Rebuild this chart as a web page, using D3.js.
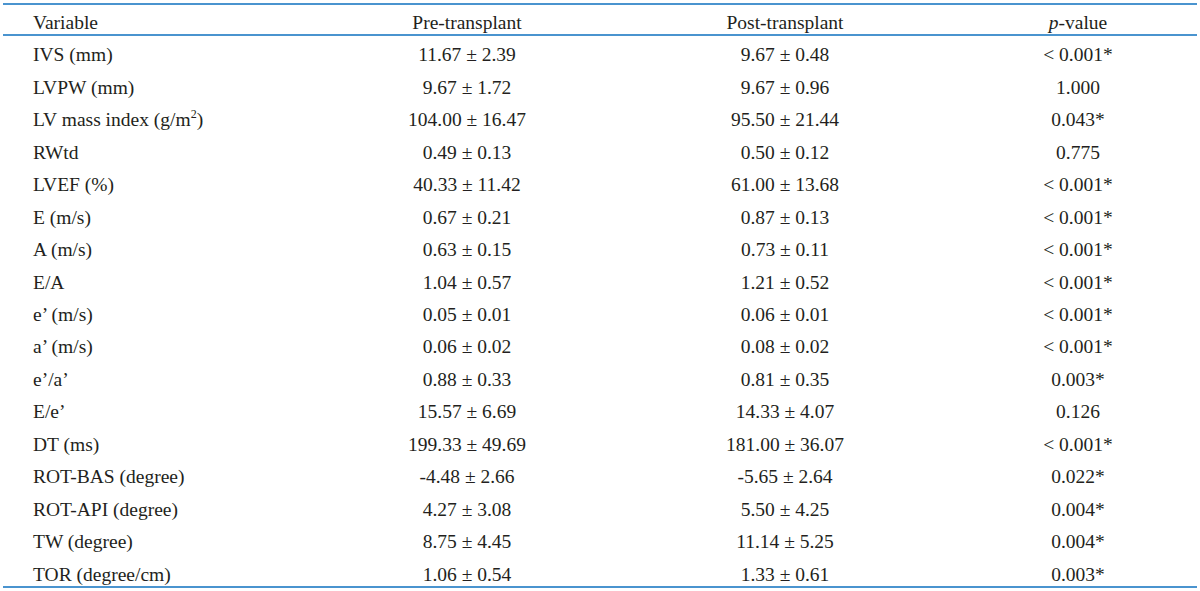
<!DOCTYPE html>
<html>
<head>
<meta charset="utf-8">
<script src="https://cdn.jsdelivr.net/npm/d3@7"></script>
<style>
  html, body { margin: 0; padding: 0; background: #ffffff; }
  svg { display: block; }
  text { font-family: "Liberation Serif", "Times New Roman", serif; fill: #231f20; }
</style>
</head>
<body>
<svg id="chart" width="1200" height="591"></svg>
<script>
const headers = ["Variable", "Pre-transplant", "Post-transplant", "p-value"];
const variables = ["IVS (mm)", "LVPW (mm)", "LV mass index (g/m2)", "RWtd", "LVEF (%)", "E (m/s)", "A (m/s)", "E/A",
  "e\u2019 (m/s)", "a\u2019 (m/s)", "e\u2019/a\u2019", "E/e\u2019", "DT (ms)", "ROT-BAS (degree)", "ROT-API (degree)",
  "TW (degree)", "TOR (degree/cm)"];
const preMean = [11.67, 9.67, 104.00, 0.49, 40.33, 0.67, 0.63, 1.04, 0.05, 0.06, 0.88, 15.57, 199.33, -4.48, 4.27, 8.75, 1.06];
const preSD = [2.39, 1.72, 16.47, 0.13, 11.42, 0.21, 0.15, 0.57, 0.01, 0.02, 0.33, 6.69, 49.69, 2.66, 3.08, 4.45, 0.54];
const postMean = [9.67, 9.67, 95.50, 0.50, 61.00, 0.87, 0.73, 1.21, 0.06, 0.08, 0.81, 14.33, 181.00, -5.65, 5.50, 11.14, 1.33];
const postSD = [0.48, 0.96, 21.44, 0.12, 13.68, 0.13, 0.11, 0.52, 0.01, 0.02, 0.35, 4.07, 36.07, 2.64, 4.25, 5.25, 0.61];
const pLabels = ["< 0.001*", "1.000", "0.043*", "0.775", "< 0.001*", "< 0.001*", "< 0.001*", "< 0.001*", "< 0.001*",
  "< 0.001*", "0.003*", "0.126", "< 0.001*", "0.022*", "0.004*", "0.004*", "0.003*"];

const W = 1200, H = 591;
const svg = d3.select("#chart");
const fontSize = 19.5;
const lineColor = "#4a94cf";

const topY = 4, headY = 35, botY = 587;
const y = d3.scaleBand().domain(d3.range(variables.length)).range([headY, botY]);
const colX = d3.scaleOrdinal().domain(headers).range([33, 467, 785, 1078]);
const colAnchor = d3.scaleOrdinal().domain(headers).range(["start", "middle", "middle", "middle"]);

const fmt = (m, s) => m.toFixed(2) + " \u00b1 " + s.toFixed(2);
const rows = variables.map((v, i) => ({
  i, cells: [v, fmt(preMean[i], preSD[i]), fmt(postMean[i], postSD[i]), pLabels[i]]
}));

// rules
[topY, headY, botY].forEach(yy => {
  svg.append("line").attr("x1", 3).attr("x2", 1197).attr("y1", yy).attr("y2", yy)
    .attr("stroke", lineColor).attr("stroke-width", 2);
});

// header
const hdrY = 29;
headers.forEach(h => {
  const t = svg.append("text").attr("x", colX(h)).attr("y", hdrY)
    .attr("text-anchor", colAnchor(h)).attr("font-size", fontSize);
  if (h === "p-value") {
    t.append("tspan").attr("font-style", "italic").text("p");
    t.append("tspan").text("-value");
  } else {
    t.text(h);
  }
});

// body
const g = svg.append("g");
rows.forEach(r => {
  const cy = y(r.i) + y.bandwidth() / 2 + 10;
  r.cells.forEach((c, j) => {
    const h = headers[j];
    const t = g.append("text").attr("x", colX(h)).attr("y", cy)
      .attr("text-anchor", colAnchor(h)).attr("font-size", fontSize);
    if (j === 0 && c.endsWith("m2)")) {
      t.append("tspan").text(c.slice(0, -2));
      t.append("tspan").attr("font-size", 12).attr("dy", -8).text("2");
      t.append("tspan").attr("dy", 8).text(")");
    } else {
      t.text(c);
    }
  });
});
</script>
</body>
</html>
